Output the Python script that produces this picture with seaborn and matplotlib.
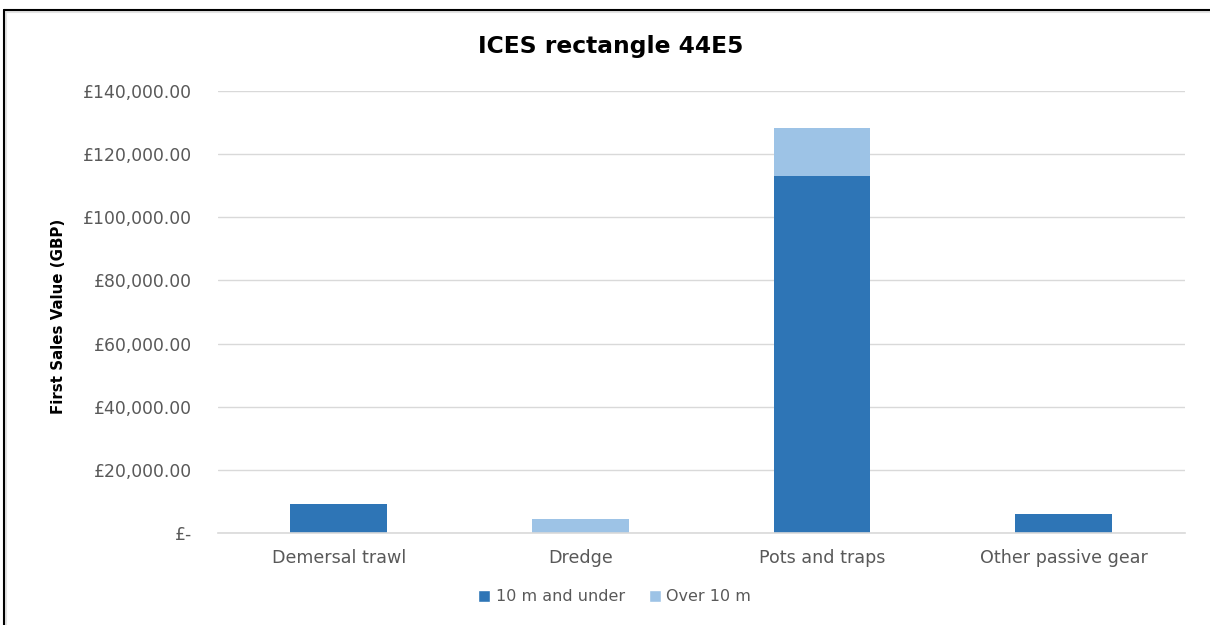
import matplotlib
matplotlib.use("Agg")
import matplotlib.pyplot as plt
from matplotlib.patches import Patch
from matplotlib.ticker import FuncFormatter
import seaborn as sns
import pandas as pd

# Data: first sales value by gear type and vessel length
gear_types = ["Demersal trawl", "Dredge", "Pots and traps", "Other passive gear"]
under_10m = [9300, 0, 113100, 5900]
over_10m = [0, 4350, 15100, 0]
series_names = ["10 m and under", "Over 10 m"]
y_ticks = [0, 20000, 40000, 60000, 80000, 100000, 120000, 140000]

dark_blue = "#2E75B6"
light_blue = "#9DC3E6"
text_grey = "#595959"
grid_grey = "#D9D9D9"

sns.set_theme(style="white")
plt.rcParams["font.family"] = ["DejaVu Sans"]

df = pd.DataFrame({
    "gear": gear_types,
    "under": under_10m,
    "over": over_10m,
})
df["total"] = df["under"] + df["over"]

fig = plt.figure(figsize=(12.1, 6.25), dpi=100)
ax = fig.add_axes([0.180, 0.1472, 0.799, 0.7072])

# Stacked bars: totals first (light), then the lower segment (dark) on top
sns.barplot(data=df, x="gear", y="total", color=light_blue, width=0.4,
            saturation=1, ax=ax, linewidth=0)
sns.barplot(data=df, x="gear", y="under", color=dark_blue, width=0.4,
            saturation=1, ax=ax, linewidth=0)

ax.set_ylim(0, 140000)
ax.set_xlim(-0.5, len(gear_types) - 0.5)
ax.set_yticks(y_ticks)


def money(v, _pos):
    if v == 0:
        return "£-"
    return f"£{v:,.2f}"


ax.yaxis.set_major_formatter(FuncFormatter(money))
ax.yaxis.grid(True, color=grid_grey, linewidth=1)
ax.set_axisbelow(True)
for side in ["top", "right", "left"]:
    ax.spines[side].set_visible(False)
ax.spines["bottom"].set_color(grid_grey)
ax.spines["bottom"].set_linewidth(1.2)

ax.tick_params(axis="y", length=0, pad=18.5, labelsize=12.4, labelcolor=text_grey)
ax.tick_params(axis="x", length=0, pad=11.5, labelsize=12.6, labelcolor=text_grey)
ax.set_xlabel("")
ax.set_ylabel("First Sales Value (GBP)", fontsize=10.8, fontweight="bold",
              color="black")
ax.yaxis.set_label_coords(-0.157, 0.49)

fig.text(0.505, 0.926, "ICES rectangle 44E5", ha="center", va="center",
         fontsize=16.8, fontweight="bold", color="black")

handles = [Patch(facecolor=dark_blue, label=series_names[0]),
           Patch(facecolor=light_blue, label=series_names[1])]
leg = fig.legend(handles=handles, loc="center", bbox_to_anchor=(0.508, 0.045),
                 ncol=2, frameon=False, fontsize=11.5, handlelength=0.75,
                 handleheight=0.75, handletextpad=0.35, columnspacing=1.5)
for t in leg.get_texts():
    t.set_color(text_grey)

# Frame around the figure, with a faint inner shadow line
fig.add_artist(plt.Line2D([5.5 / 1210, 5.5 / 1210], [0, 1 - 11.5 / 625],
                          transform=fig.transFigure, color="#E3E3E3", linewidth=1.5))
fig.add_artist(plt.Line2D([5.5 / 1210, 1], [1 - 11.5 / 625, 1 - 11.5 / 625],
                          transform=fig.transFigure, color="#E3E3E3", linewidth=1.5))
fig.add_artist(plt.Line2D([3.5 / 1210, 3.5 / 1210], [0, 1 - 9.5 / 625],
                          transform=fig.transFigure, color="black", linewidth=1.5))
fig.add_artist(plt.Line2D([3.5 / 1210, 1], [1 - 9.5 / 625, 1 - 9.5 / 625],
                          transform=fig.transFigure, color="black", linewidth=1.5))

fig.savefig("out.png", dpi=100, facecolor="white")
